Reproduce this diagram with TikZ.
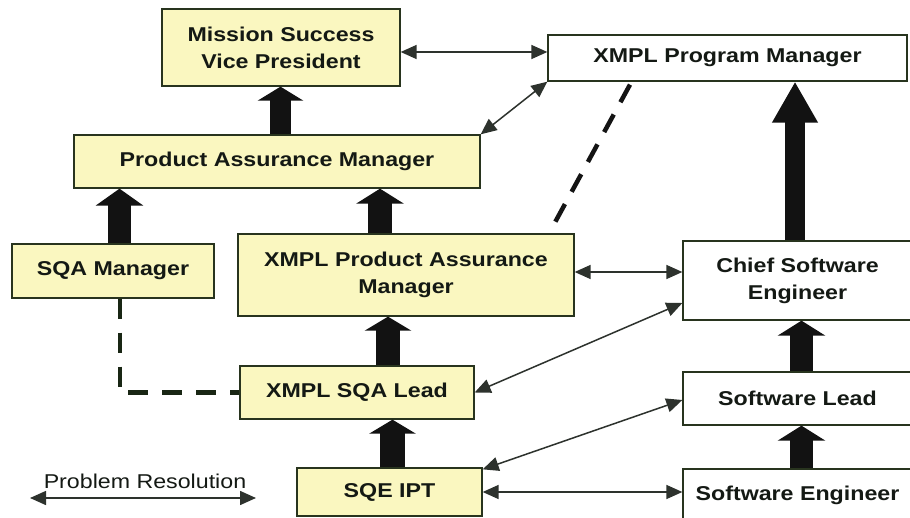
\documentclass[tikz,border=0pt]{standalone}
\usepackage{fontspec}
\setmainfont{Liberation Sans}[FakeStretch=1.16]
\usetikzlibrary{arrows.meta,calc}
\definecolor{boxfill}{RGB}{250,247,192}
\definecolor{edge}{RGB}{40,52,30}
\definecolor{txt}{RGB}{20,25,20}
\definecolor{arrowc}{RGB}{45,50,45}
\definecolor{dashc}{RGB}{25,38,20}
\begin{document}
\begin{tikzpicture}[x=1pt,y=-1pt,
  box/.style={draw=edge, line width=1.3pt, fill=boxfill, text=txt,
    font=\fontsize{20}{27}\selectfont\bfseries, align=center, inner sep=0pt},
  wbox/.style={box, fill=white},
  blk/.style n args={4}{draw=black!93, line width=#1pt,
    -{Triangle[width=#2pt,length=#3pt]}},
  thinarr/.style={draw=arrowc, line width=1.5pt,
    {Triangle[length=16pt,width=14pt]}-{Triangle[length=16pt,width=14pt]}},
  dsh/.style={draw=dashc, line width=4.5pt, dash pattern=on 20pt off 14pt},
]
\useasboundingbox (0,0) rectangle (910,518);
\fill[white] (0,0) rectangle (910,518);

% nodes
\node[box, minimum width=238pt, minimum height=77pt] (msvp) at (281,47.5) {Mission Success\\Vice President};
\node[wbox, minimum width=359pt, minimum height=46pt] (xpm) at (727.5,58) {XMPL Program Manager};
\node[box, minimum width=406pt, minimum height=53pt] (pam) at (277,161.5) {Product Assurance Manager};
\node[box, minimum width=202pt, minimum height=54pt] (sqa) at (113,271) {SQA Manager};
\node[box, minimum width=336pt, minimum height=82pt] (xpam) at (406,275) {XMPL Product Assurance\\Manager};
\node[box, minimum width=234pt, minimum height=53pt] (xsqa) at (357,392.5) {XMPL SQA Lead};
\node[box, minimum width=185pt, minimum height=48pt] (sqe) at (389.5,492) {SQE IPT};
\node[wbox, minimum width=229pt, minimum height=79pt] (cse) at (797.5,280.5) {Chief Software\\Engineer};
\node[wbox, minimum width=229pt, minimum height=53pt] (sl) at (797.5,398.5) {Software Lead};
\node[wbox, minimum width=229pt, minimum height=52pt] (se) at (797.5,495) {Software Engineer};

% helper x positions
\coordinate (b1) at (280.5,0);
\coordinate (b2) at (119.5,0);
\coordinate (b3) at (380,0);
\coordinate (b4) at (388,0);
\coordinate (b5) at (392.5,0);
\coordinate (b6) at (795,0);
\coordinate (b7) at (801.5,0);

% block arrows
\draw[blk={21}{45}{14}{}] (pam.north -| b1) -- (msvp.south -| b1);
\draw[blk={23}{47}{17}{}] (sqa.north -| b2) -- (pam.south -| b2);
\draw[blk={24}{47}{15}{}] (xpam.north -| b3) -- (pam.south -| b3);
\draw[blk={24}{46}{14}{}] (xsqa.north -| b4) -- (xpam.south -| b4);
\draw[blk={25}{46}{14}{}] (sqe.north -| b5) -- (xsqa.south -| b5);
\draw[blk={20}{43}{41}{}] (cse.north -| b6) -- (xpm.south -| b6);
\draw[blk={23}{47}{15}{}] (sl.north -| b7) -- (cse.south -| b7);
\draw[blk={23}{47}{15}{}] (se.north -| b7) -- (sl.south -| b7);

% dashed lines
\coordinate (d1) at (120,0);
\draw[dsh] (sqa.south -| d1) |- (xsqa.west);
\coordinate (d2) at (630,0);
\coordinate (d3) at (549,0);
\draw[dsh, draw=black!92] ([yshift=-3pt]xpm.south -| d2) -- (xpam.north -| d3);

% thin arrows
\coordinate (h1) at (0,52);
\coordinate (h3) at (0,272);
\coordinate (h4) at (0,303);
\coordinate (h5) at (0,400);
\coordinate (h6) at (0,492);
\draw[thinarr] (msvp.east |- h1) -- (xpm.west |- h1);
\draw[thinarr] (pam.north east) -- (xpm.south west);
\draw[thinarr] (xpam.east |- h3) -- (cse.west |- h3);
\draw[thinarr] (xsqa.east) -- (cse.west |- h4);
\draw[thinarr] ([yshift=-2pt]sqe.north east) -- (sl.west |- h5);
\draw[thinarr] (sqe.east |- h6) -- (se.west |- h6);

% legend
\node[text=txt, font=\fontsize{20}{24}\selectfont, inner sep=0pt] (lt) at (145,481) {Problem Resolution};
\coordinate (l1) at (30,498);
\coordinate (l2) at (256,498);
\draw[thinarr] (l1) -- (l2);
\end{tikzpicture}
\end{document}
